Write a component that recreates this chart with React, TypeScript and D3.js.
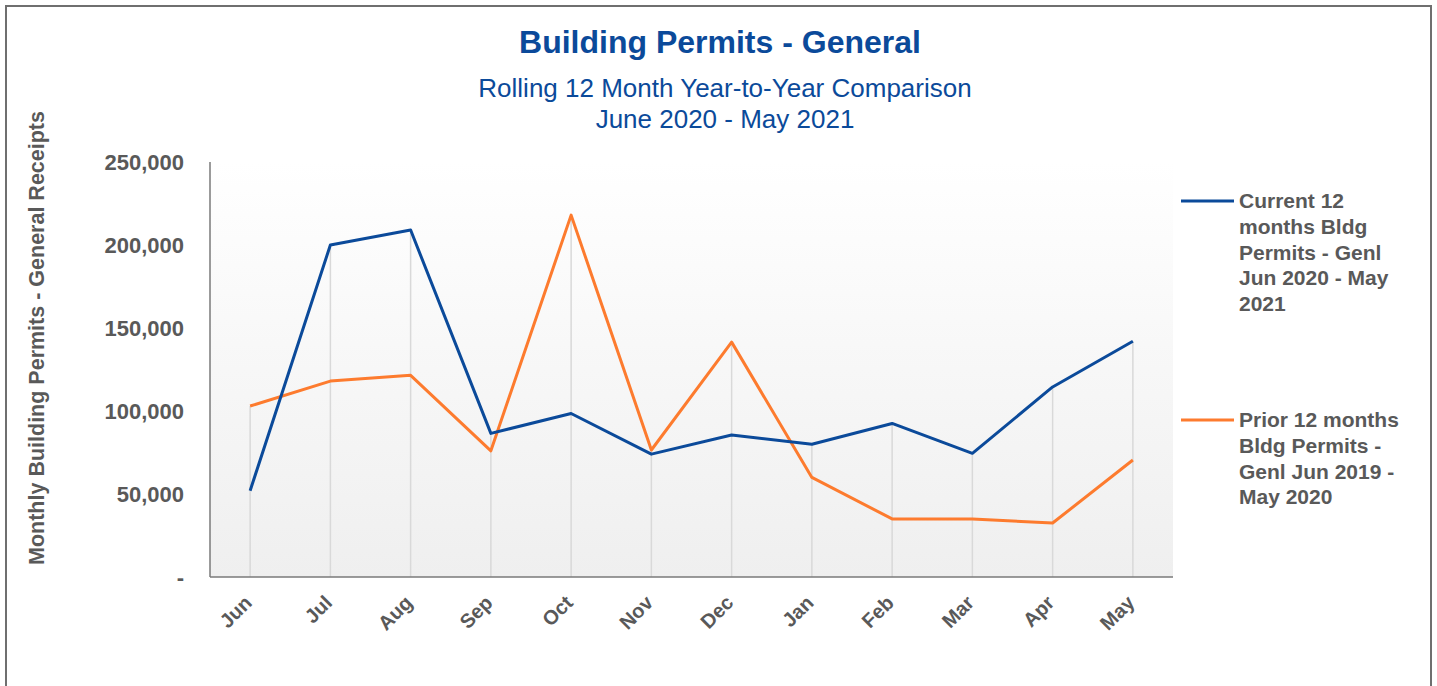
import React from "react";
import * as d3 from "d3";

const months = ["Jun", "Jul", "Aug", "Sep", "Oct", "Nov", "Dec", "Jan", "Feb", "Mar", "Apr", "May"];
const current = [52000, 200000, 209000, 86500, 98500, 74000, 85500, 80000, 92500, 74500, 114500, 142000];
const prior = [103000, 118000, 121500, 76000, 218000, 76500, 141500, 60000, 35000, 35000, 32500, 70500];
const yTicks = [0, 50000, 100000, 150000, 200000, 250000];
const seriesNames = [
  ["Current 12", "months Bldg", "Permits - Genl", "Jun 2020 - May", "2021"],
  ["Prior 12 months", "Bldg Permits -", "Genl Jun 2019 -", "May 2020"],
];

const W = 1437, H = 686;
const left = 210, right = 1173, top = 162, bottom = 577;
const BLUE = "#0b4a9a", ORANGE = "#fd7b2e", GRAY = "#595959";
const FONT = "'Liberation Sans', Arial, Helvetica, sans-serif";

export default function App() {
  const x = d3.scalePoint<string>().domain(months).range([left, right]).padding(0.5);
  const y = d3.scaleLinear().domain([0, 250000]).range([bottom, top]);
  const line = d3.line<number>().x((_, i) => x(months[i])!).y((d) => y(d));
  const fmt = d3.format(",");
  const legendY = [201, 420];
  const colors = [BLUE, ORANGE];
  return (
    <svg width={W} height={H} style={{ position: "absolute", left: 0, top: 0, background: "#fff" }} fontFamily={FONT}>
      <defs>
        <linearGradient id="bg" x1="0" y1="0" x2="0" y2="1">
          <stop offset="0" stopColor="#ffffff" />
          <stop offset="1" stopColor="#efefef" />
        </linearGradient>
      </defs>
      <rect x={6} y={6} width={1425} height={H + 10} fill="#fff" stroke="#6f6f6f" strokeWidth={2} />
      <text x={720} y={53} textAnchor="middle" fontSize={32} fontWeight="bold" fill={BLUE}>Building Permits - General</text>
      <text x={725} y={97} textAnchor="middle" fontSize={26} fill={BLUE}>Rolling 12 Month Year-to-Year Comparison</text>
      <text x={725} y={128} textAnchor="middle" fontSize={26} fill={BLUE}>June 2020 - May 2021</text>
      <rect x={left} y={top} width={right - left} height={bottom - top} fill="url(#bg)" />
      {months.map((m, i) => (
        <line key={m} x1={x(m)} x2={x(m)} y1={y(Math.max(current[i], prior[i]))} y2={bottom} stroke="#d9d9d9" strokeWidth={1.5} />
      ))}
      <line x1={left} x2={left} y1={top} y2={bottom} stroke="#7a7a7a" strokeWidth={1.5} />
      <line x1={left} x2={right} y1={bottom} y2={bottom} stroke="#7a7a7a" strokeWidth={1.5} />
      {yTicks.map((t) => (
        <text key={t} x={184} y={y(t)} dy="0.35em" textAnchor="end" fontSize={22} fontWeight="bold" fill={GRAY}>
          {t === 0 ? "-" : fmt(t)}
        </text>
      ))}
      {months.map((m) => (
        <text key={m} transform={`translate(${x(m)! + 3},${604}) rotate(-45)`} textAnchor="end" fontSize={20} fontWeight="bold" fill={GRAY}>
          {m}
        </text>
      ))}
      <text transform={`translate(44,338) rotate(-90)`} textAnchor="middle" fontSize={21.5} fontWeight="bold" fill={GRAY}>
        Monthly Building Permits - General Receipts
      </text>
      <path d={line(prior)!} fill="none" stroke={ORANGE} strokeWidth={3} strokeLinejoin="round" />
      <path d={line(current)!} fill="none" stroke={BLUE} strokeWidth={3} strokeLinejoin="round" />
      {seriesNames.map((lines, si) => (
        <g key={si}>
          <line x1={1181} x2={1234} y1={legendY[si]} y2={legendY[si]} stroke={colors[si]} strokeWidth={3} />
          {lines.map((l, li) => (
            <text key={li} x={1239} y={legendY[si] + li * 25.7} dy="0.35em" fontSize={21} fontWeight="bold" fill={GRAY}>{l}</text>
          ))}
        </g>
      ))}
    </svg>
  );
}
